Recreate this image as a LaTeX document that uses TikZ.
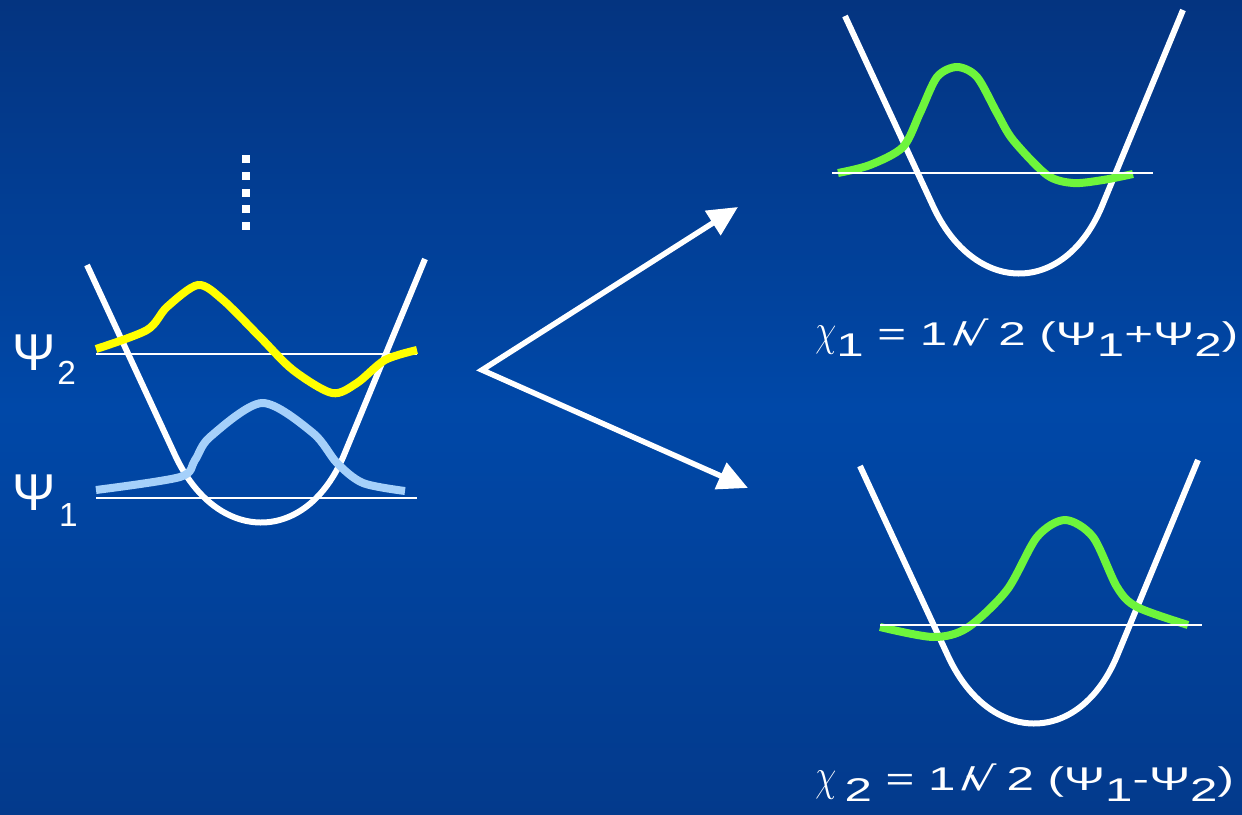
\documentclass[tikz,border=0pt]{standalone}
\usepackage{fontspec}
\setmainfont{Liberation Sans}
\newfontfamily\rootfont{DejaVu Sans}
\usepackage{graphicx}
\definecolor{BgTop}{RGB}{4,52,128}
\definecolor{BgMid}{RGB}{0,72,168}
\definecolor{BgBot}{RGB}{3,58,140}
\definecolor{PsiYellow}{RGB}{255,255,0}
\definecolor{PsiBlue}{RGB}{165,208,250}
\definecolor{ChiGreen}{RGB}{110,245,60}
\usetikzlibrary{arrows.meta}
\newcommand{\lowsub}[1]{\raisebox{-0.36em}{#1}}
\newcommand{\bigchi}{\scalebox{0.75}[1.5]{$\chi$}}
\newcommand{\invroot}{1\kern0.12em/\kern-0.2em{\rootfont √}\kern0.2em 2}

\begin{document}
\begin{tikzpicture}[x=0.02cm, y=-0.02cm,
    wellline/.style={draw=white, line width=0.12cm},
    level/.style={draw=white, line width=0.035cm},
    wave/.style={draw=#1, line width=0.16cm},
    fanarrow/.style={draw=white, line width=0.11cm,
      {Triangle[length=0.6cm, width=0.56cm]}-{Triangle[length=0.6cm, width=0.56cm]}},
    psilabel/.style={text=white, inner sep=0pt, font=\fontsize{29.5}{32}\selectfont},
    chilabel/.style={text=white, inner sep=0pt, font=\fontsize{18.7}{22}\selectfont},
    well/.pic={\draw[wellline] (-175,-259) -- (-87,-69)
      .. controls (-46,20) and (44,22) .. (82,-69) -- (163,-265);}]
    \shade[top color=BgTop, bottom color=BgBot, middle color=BgMid]
      (0,0) rectangle (1242,815);
    \useasboundingbox (0,0) rectangle (1242,815);

    % left well, two lowest states
    \draw[level] (96,354) -- (417,354);
    \draw[level] (96,498) -- (417,498);
    \pic at (262,524) {well};
    \draw[wave=PsiYellow] plot[smooth, tension=0.5] coordinates {(96,349) (147,330)
      (167,307) (198,285) (223,300) (260,337) (293,370) (332,393) (357,383)
      (385,360) (417,350)};
    \draw[wave=PsiBlue] plot[smooth, tension=0.5] coordinates {(96,490) (180,477)
      (195,460) (210,437) (262,403) (313,433) (337,463) (363,483) (405,491)};
    \foreach \y in {159,176,193,209,226}
      \fill[white] (242,\y-4) rectangle (250,\y+4);
    \node[psilabel, anchor=base west] (psiTwo) at (12,370)
      {Ψ\kern1pt\raisebox{-8pt}{\fontsize{19}{22}\selectfont 2}};
    \node[psilabel, anchor=base west] (psiOne) at (12,510)
      {Ψ\kern2pt\raisebox{-9.5pt}{\fontsize{19}{22}\selectfont 1}};

    % the fork
    \coordinate (fork) at (482,370);
    \coordinate (tipUp) at (738,207);
    \coordinate (tipDn) at (748,488);
    \draw[fanarrow] (tipUp) -- (fork) -- (tipDn);

    % right wells, localised states
    \pic at (1020,275) {well};
    \draw[wave=ChiGreen] plot[smooth, tension=0.5] coordinates {(838,173) (870,165)
      (903,147) (920,113) (937,77) (957,67) (977,77) (997,113) (1013,140)
      (1047,175) (1073,183) (1103,180) (1133,174)};
    \draw[level] (832,173) -- (1153,173);
    \node[chilabel, anchor=base west] (chiOne) at (815,345)
      {\scalebox{1.5}[1]{\bigchi\lowsub{1} = \invroot{} (Ψ\lowsub{1}+Ψ\lowsub{2})}};

    \pic at (1035,725) {well};
    \draw[wave=ChiGreen] plot[smooth, tension=0.5] coordinates {(880,627) (933,637)
      (967,628) (1007,590) (1037,537) (1065,520) (1093,537) (1117,587)
      (1137,607) (1188,625)};
    \draw[level] (880,625) -- (1202,625);
    \node[chilabel, anchor=base west] (chiTwo) at (815,790)
      {\scalebox{1.5}[1]{\bigchi\,\lowsub{2} = \invroot{} (Ψ\lowsub{1}-Ψ\lowsub{2})}};
  \end{tikzpicture}
\end{document}
